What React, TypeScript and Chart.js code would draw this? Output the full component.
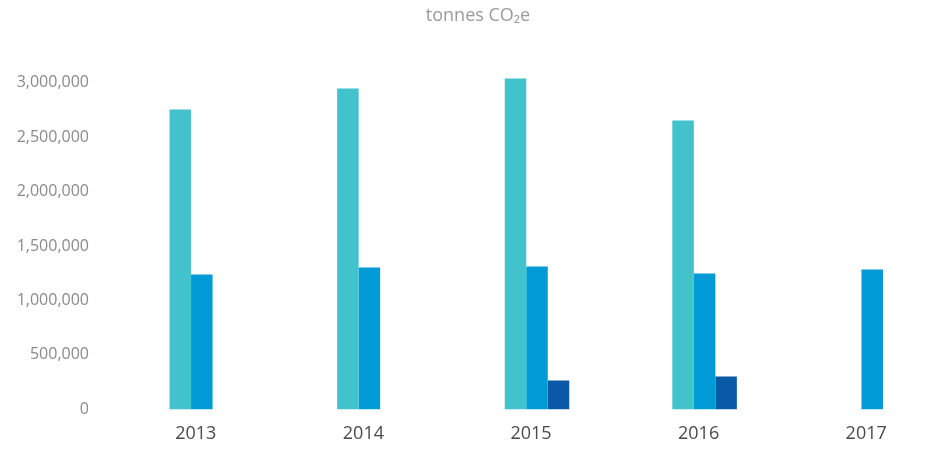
import React, { useEffect, useRef } from "react";
import { Chart, registerables } from "chart.js";

Chart.register(...registerables);

const years = ["2013", "2014", "2015", "2016", "2017"];
const seriesA = [2752000, 2945000, 3037000, 2651000, null];
const seriesB = [1238000, 1303000, 1312000, 1248000, 1284000];
const seriesC = [null, null, 266000, 303000, null];
const yTicks = [0, 500000, 1000000, 1500000, 2000000, 2500000, 3000000];
const titleText = "tonnes CO\u2082e";

const fmt = (n: number) => String(Math.round(n)).replace(/\B(?=(\d{3})+(?!\d))/g, ",");

export default function App() {
  const ref = useRef<HTMLCanvasElement | null>(null);

  useEffect(() => {
    document.body.style.margin = "0";
    const canvas = ref.current;
    if (!canvas) return;
    const chart = new Chart(canvas, {
      type: "bar",
      data: {
        labels: years,
        datasets: [
          { label: "A", data: seriesA, backgroundColor: "#42C2CA" },
          { label: "B", data: seriesB, backgroundColor: "#009AD6" },
          { label: "C", data: seriesC, backgroundColor: "#0B5AA7" },
        ],
      },
      options: {
        responsive: false,
        animation: false,
        maintainAspectRatio: false,
        layout: { padding: { left: 0, right: 0, top: 0, bottom: -2 } },
        datasets: {
          bar: { categoryPercentage: 0.385, barPercentage: 1, borderWidth: 0 },
        },
        plugins: {
          legend: { display: false },
          tooltip: { enabled: false },
          title: {
            display: true,
            text: titleText,
            color: "#9b9b9b",
            font: { family: "'Open Sans', sans-serif", size: 18, weight: "normal" },
            padding: { top: 5, bottom: 45 },
          },
        },
        scales: {
          x: {
            grid: { display: false },
            border: { display: false },
            ticks: {
              color: "#4a4a4a",
              font: { family: "'Open Sans', sans-serif", size: 18 },
              padding: 6,
              labelOffset: -6,
            },
          },
          y: {
            min: 0,
            max: 3100000,
            grid: { display: false },
            border: { display: false },
            afterBuildTicks: (axis: any) => {
              axis.ticks = yTicks.map((v) => ({ value: v }));
            },
            afterFit: (axis: any) => {
              axis.width = 118;
            },
            ticks: {
              autoSkip: false,
              color: "#8a8a8a",
              padding: 21,
              font: { family: "'Open Sans', sans-serif", size: 16 },
              callback: (v: any) => fmt(Number(v)),
            },
          },
        },
      },
    });
    return () => chart.destroy();
  }, []);

  return (
    <div style={{ width: 949, height: 449, overflow: "hidden" }}>
      <canvas ref={ref} width={956} height={449} style={{ display: "block" }} />
    </div>
  );
}
